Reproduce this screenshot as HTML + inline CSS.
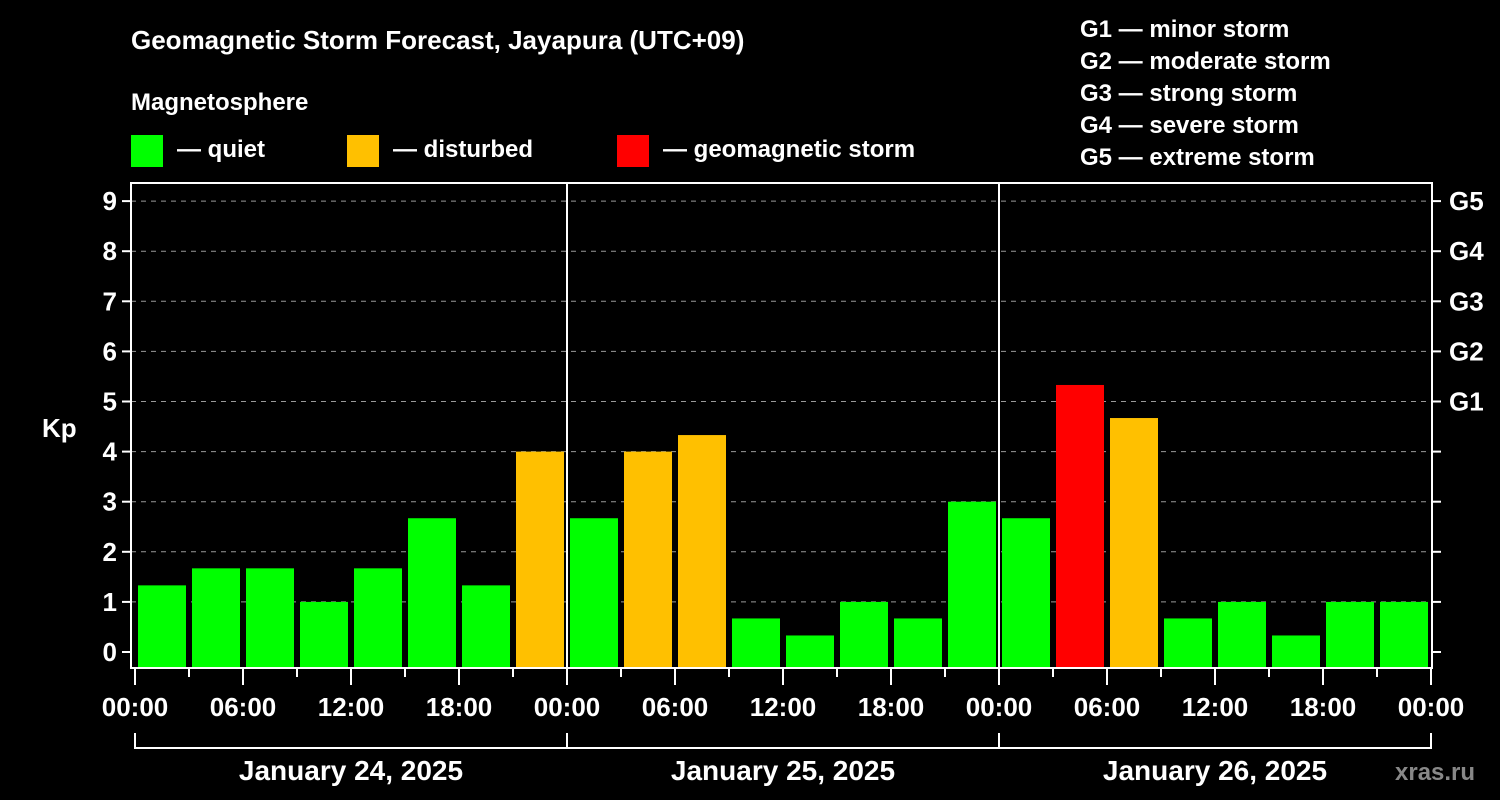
<!DOCTYPE html>
<html><head><meta charset="utf-8"><style>
html,body{margin:0;padding:0;background:#000;}
svg{display:block;font-family:"Liberation Sans",Arial,sans-serif;font-weight:bold;}
</style></head><body>
<svg id="chart" width="1500" height="800" viewBox="0 0 1500 800">
<rect x="0" y="0" width="1500" height="800" fill="#000"/>
<text x="131" y="49" fill="#fff" font-size="26">Geomagnetic Storm Forecast, Jayapura (UTC+09)</text>
<text x="131" y="110" fill="#fff" font-size="24">Magnetosphere</text>
<g><rect x="131" y="135" width="32" height="32" fill="#00ff00"/><text x="177" y="157" fill="#fff" font-size="24">— quiet</text></g>
<g><rect x="347" y="135" width="32" height="32" fill="#ffc000"/><text x="393" y="157" fill="#fff" font-size="24">— disturbed</text></g>
<g><rect x="617" y="135" width="32" height="32" fill="#ff0000"/><text x="663" y="157" fill="#fff" font-size="24">— geomagnetic storm</text></g>
<g fill="#fff" font-size="24">
<text x="1080" y="37">G1 — minor storm</text>
<text x="1080" y="69">G2 — moderate storm</text>
<text x="1080" y="101">G3 — strong storm</text>
<text x="1080" y="133">G4 — severe storm</text>
<text x="1080" y="165">G5 — extreme storm</text>
</g>
<text x="42" y="437" fill="#fff" font-size="26">Kp</text>
<text x="1395" y="780" fill="#888" font-size="24">xras.ru</text>
<g id="grid"></g><g id="bars"></g><g id="axes"></g>
</svg>
<script>
const kpValues = [1.33,1.67,1.67,1.0,1.67,2.67,1.33,4.0, 2.67,4.0,4.33,0.67,0.33,1.0,0.67,3.0, 2.67,5.33,4.67,0.67,1.0,0.33,1.0,1.0];
const yTicks = [0,1,2,3,4,5,6,7,8,9];
const gLabels = ["G1","G2","G3","G4","G5"];
const timeLabels = ["00:00","06:00","12:00","18:00"];
const dayLabels = ["January 24, 2025","January 25, 2025","January 26, 2025"];
const NS="http://www.w3.org/2000/svg";
const x0=135, dayW=432, pTop=183, pBot=668, pL=131, pR=1432;
const yS=v=>652-50.1*v;
const xS=h=>x0+h*dayW/24;
function mk(tag,attrs,parent,txt){const e=document.createElementNS(NS,tag);for(const k in attrs)e.setAttribute(k,attrs[k]);if(txt!==undefined)e.textContent=txt;parent.appendChild(e);return e;}
const grid=document.getElementById('grid'),bars=document.getElementById('bars'),axes=document.getElementById('axes');
yTicks.forEach(v=>{
  if(v>0){const l=mk('line',{x1:pL,x2:pR,y1:yS(v),y2:yS(v),stroke:'#999','stroke-width':1,'stroke-dasharray':'5,5'},grid);
  
  }
  const t=mk('line',{x1:pL-9,x2:pL,y1:yS(v),y2:yS(v),stroke:'#fff','stroke-width':2},axes);
  
  
  const lb=mk('text',{x:pL-14,y:yS(v)+9,fill:'#fff','font-size':26,'text-anchor':'end'},axes,String(v));
  
  
  const rt=mk('line',{x1:pR,x2:pR+9,y1:yS(v),y2:yS(v),stroke:'#fff','stroke-width':2},axes);
  
  
  if(v>=5){const g=mk('text',{x:pR+17,y:yS(v)+9,fill:'#fff','font-size':26},axes,gLabels[v-5]);
  
  }
});
kpValues.forEach((v,i)=>{
  const c=v>=5?'#ff0000':(v>=4?'#ffc000':'#00ff00');
  const x=xS(i*3)+3, w=dayW/8-6, y=yS(v);
  const r=mk('rect',{x:x,y:y,width:w,height:pBot-y,fill:c},bars);
  
  
});
const fr=mk('rect',{x:pL,y:pTop,width:pR-pL,height:pBot-pTop,fill:'none',stroke:'#fff','stroke-width':2},axes);


for(let d=1;d<3;d++){const s=mk('line',{x1:xS(24*d),x2:xS(24*d),y1:pTop,y2:pBot,stroke:'#fff','stroke-width':2},axes);
  
  }
for(let h=0;h<=72;h+=3){
  const major=h%6===0;
  const t=mk('line',{x1:xS(h),x2:xS(h),y1:pBot,y2:major?685:677,stroke:'#fff','stroke-width':2},axes);
  
  
  if(major){const lb=mk('text',{x:xS(h),y:716,fill:'#fff','font-size':26,'text-anchor':'middle'},axes,timeLabels[(h%24)/6]);
  
  }
}
const br=mk('line',{x1:xS(0),x2:xS(72),y1:748,y2:748,stroke:'#fff','stroke-width':2},axes);


for(let d=0;d<=3;d++){const t=mk('line',{x1:xS(24*d),x2:xS(24*d),y1:733,y2:749,stroke:'#fff','stroke-width':2},axes);
  
  }
dayLabels.forEach((s,d)=>{const t=mk('text',{x:xS(24*d+12),y:780,fill:'#fff','font-size':28,'text-anchor':'middle'},axes,s);
  
  });
</script>
</body></html>
